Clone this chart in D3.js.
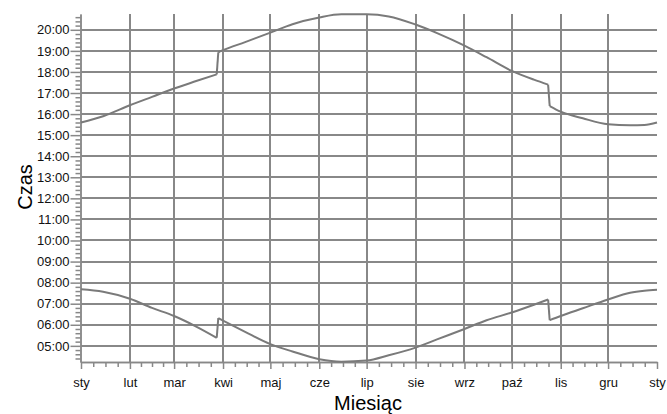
<!DOCTYPE html>
<html>
<head>
<meta charset="utf-8">
<script src="https://cdn.jsdelivr.net/npm/d3@7"></script>
<style>
    body { margin: 0; background: #fff; }
    svg { display: block; font-family: "Liberation Sans", Arial, sans-serif; }
    .grid line { stroke: #888; stroke-width: 2; shape-rendering: crispEdges; }
    .axis path, .axis line { stroke: #888; stroke-width: 1.5; }
    .axis text { fill: #111; font-size: 13px; }
    .sun { fill: none; stroke: #7a7a7a; stroke-width: 2; stroke-linejoin: round; }
</style>
</head>
<body>
<div id="chart"></div>
<script>
// dates of the readings (year 2015, DST change on 29.03 and 25.10)
var days = ["2015-01-01", "2015-01-15", "2015-02-01", "2015-02-15", "2015-03-01", "2015-03-15",
    "2015-03-28", "2015-03-29", "2015-04-01", "2015-04-15", "2015-05-01", "2015-05-15",
    "2015-06-01", "2015-06-15", "2015-07-01", "2015-07-15", "2015-08-01", "2015-08-15",
    "2015-09-01", "2015-09-15", "2015-10-01", "2015-10-15", "2015-10-24", "2015-10-25",
    "2015-11-01", "2015-11-15", "2015-12-01", "2015-12-15", "2015-12-24", "2016-01-01"];
var dstDays = ["2015-03-29", "2015-10-25"];

// sunrise (wschód)
var sunrise = ["07:41", "07:34", "07:14", "06:48", "06:25", "05:55",
    "05:23", "06:19", "06:12", "05:40", "05:05", "04:44",
    "04:22", "04:15", "04:18", "04:33", "04:55", "05:19",
    "05:48", "06:13", "06:35", "06:57", "07:12", "06:13",
    "06:25", "06:47", "07:12", "07:31", "07:37", "07:40"];

// sunset (zachód)
var sunset = ["15:36", "15:54", "16:25", "16:49", "17:13", "17:34",
    "17:53", "18:56", "19:02", "19:25", "19:52", "20:16",
    "20:35", "20:44", "20:44", "20:38", "20:15", "19:50",
    "19:15", "18:42", "18:03", "17:38", "17:24", "16:23",
    "16:07", "15:48", "15:31", "15:28", "15:29", "15:36"];

var monthLabels = ["sty", "lut", "mar", "kwi", "maj", "cze", "lip", "sie", "wrz", "paź", "lis", "gru", "sty"];
var hourLabels = ["05:00", "06:00", "07:00", "08:00", "09:00", "10:00", "11:00", "12:00",
    "13:00", "14:00", "15:00", "16:00", "17:00", "18:00", "19:00", "20:00"];
var timeDomain = ["04:14", "20:45"];
var yearRange = ["2015-01-01", "2016-01-01"];

var parseDate = d3.timeParse("%Y-%m-%d");

function toMinutes(s) {
    var p = s.split(":");
    return parseInt(p[0]) * 60 + parseInt(p[1]);
}

function drawChart() {
    var width = 667, height = 414;
    var left = 81, right = 657, top = 14, bottom = 362;

    var svg = d3.select("#chart").append("svg")
        .attr("width", width)
        .attr("height", height);

    var x = d3.scaleTime()
        .domain(yearRange.map(parseDate))
        .range([left, right]);

    var y = d3.scaleLinear()
        .domain(timeDomain.map(toMinutes))
        .range([bottom, top]);

    var months = d3.timeMonth.range(parseDate(yearRange[0]), d3.timeDay.offset(parseDate(yearRange[1]), 1));
    var hours = hourLabels.map(toMinutes);

    // minor ticks: quarters of every month, every 12 minutes
    var minorX = [];
    for (var i = 0; i < months.length - 1; i++) {
        var a = months[i].getTime(), b = months[i + 1].getTime();
        for (var k = 1; k < 4; k++) {
            minorX.push(new Date(a + (b - a) * k / 4));
        }
    }
    var minorY = d3.range(Math.ceil(y.domain()[0] / 12) * 12, y.domain()[1], 12)
        .filter(function (m) { return m % 60 != 0; });

    // grid
    var grid = svg.append("g").attr("class", "grid");
    grid.selectAll(".h")
        .data(hours)
        .enter().append("line")
        .attr("x1", left).attr("x2", right)
        .attr("y1", function (d) { return Math.round(y(d)); })
        .attr("y2", function (d) { return Math.round(y(d)); });
    grid.selectAll(".v")
        .data(months.slice(1, months.length - 1))
        .enter().append("line")
        .attr("x1", function (d) { return Math.round(x(d)); })
        .attr("x2", function (d) { return Math.round(x(d)); })
        .attr("y1", top).attr("y2", bottom);

    // axes
    svg.append("g")
        .attr("class", "axis")
        .attr("transform", "translate(" + (left - 0.5) + ",0)")
        .call(d3.axisLeft(y).tickValues(minorY).tickSize(5).tickSizeOuter(0).tickFormat(""));

    svg.append("g")
        .attr("class", "axis")
        .attr("transform", "translate(" + (left - 0.5) + ",0)")
        .call(d3.axisLeft(y).tickValues(hours).tickSize(10).tickSizeOuter(0).tickPadding(1)
            .tickFormat(function (d, i) { return hourLabels[i]; }));

    svg.append("g")
        .attr("class", "axis")
        .attr("transform", "translate(0," + bottom + ")")
        .call(d3.axisBottom(x).tickValues(minorX).tickSize(5).tickSizeOuter(0).tickFormat(""));

    svg.append("g")
        .attr("class", "axis")
        .attr("transform", "translate(0," + bottom + ")")
        .call(d3.axisBottom(x).tickValues(months).tickSize(7).tickSizeOuter(0).tickPadding(9)
            .tickFormat(function (d, i) { return monthLabels[i]; }));

    // lines: smooth between clock changes, straight jump at each change
    var smooth = d3.line()
        .x(function (d) { return x(d.date); })
        .y(function (d) { return y(d.value); })
        .curve(d3.curveMonotoneX);
    var straight = d3.line()
        .x(function (d) { return x(d.date); })
        .y(function (d) { return y(d.value); });

    [sunrise, sunset].forEach(function (series) {
        var parts = [[]];
        days.forEach(function (d, i) {
            if (dstDays.indexOf(d) >= 0) parts.push([]);
            parts[parts.length - 1].push({ date: parseDate(d), value: toMinutes(series[i]) });
        });
        parts.forEach(function (p, j) {
            svg.append("path")
                .datum(p)
                .attr("class", "sun")
                .attr("d", smooth);
            if (j > 0) {
                var prev = parts[j - 1];
                svg.append("path")
                    .datum([prev[prev.length - 1], p[0]])
                    .attr("class", "sun")
                    .attr("d", straight);
            }
        });
    });

    // titles
    svg.append("text")
        .attr("transform", "translate(31.5,187) rotate(-90)")
        .attr("text-anchor", "middle")
        .style("font-size", "20px")
        .text("Czas");

    svg.append("text")
        .attr("x", 368)
        .attr("y", 410)
        .attr("text-anchor", "middle")
        .style("font-size", "20px")
        .text("Miesiąc");
}

drawChart();
</script>
</body>
</html>
